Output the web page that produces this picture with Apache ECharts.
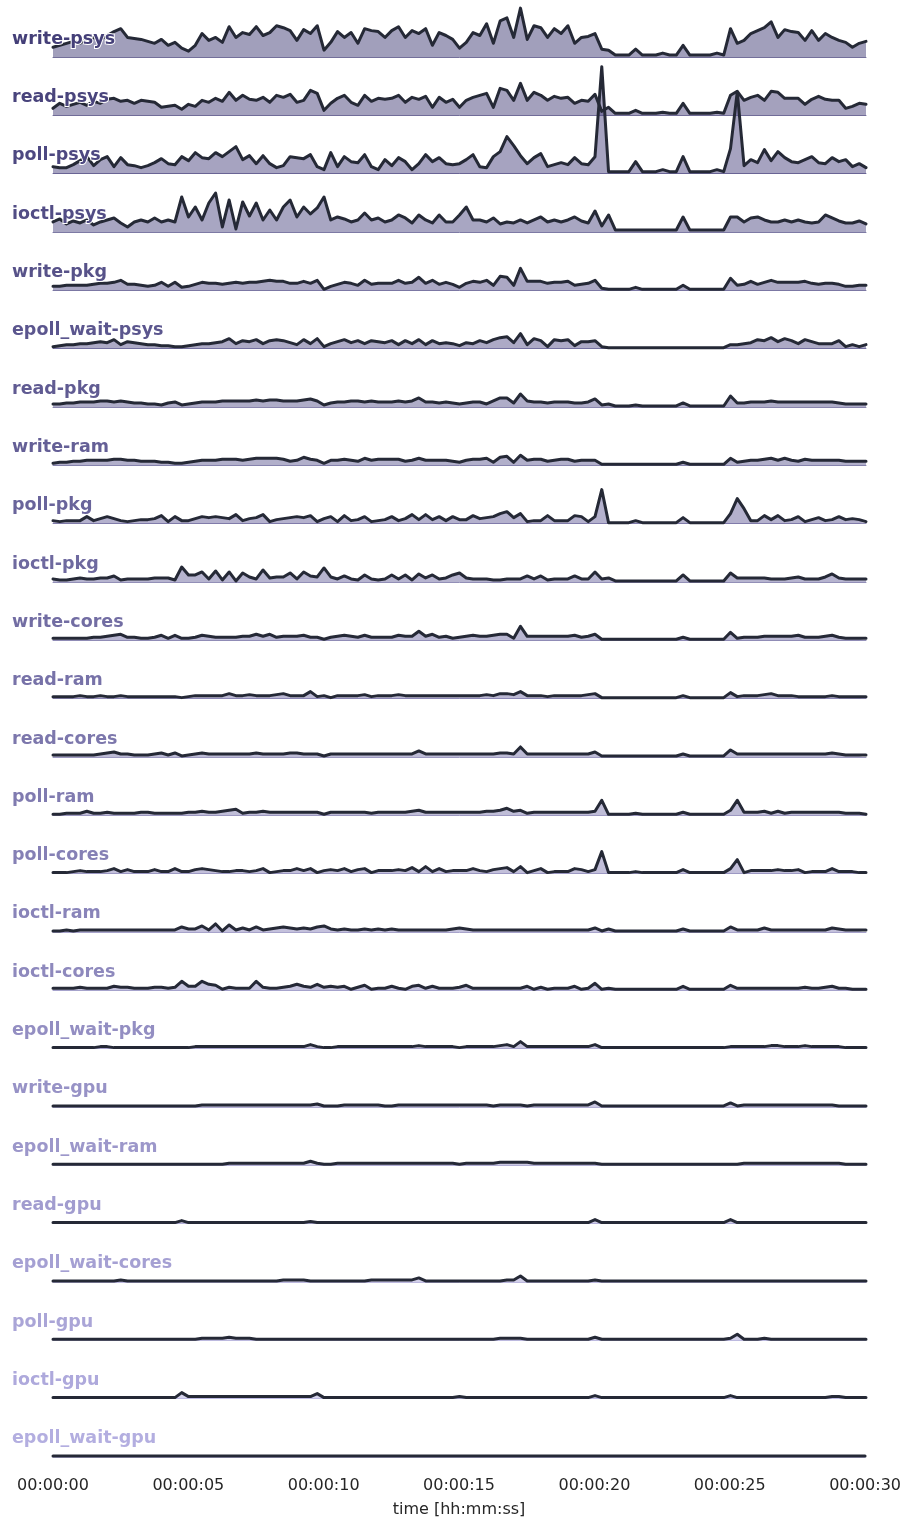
<!DOCTYPE html>
<html>
<head>
<meta charset="utf-8">
<title>syscall power by domain</title>
<script src="https://cdn.jsdelivr.net/npm/echarts@6/dist/echarts.min.js"></script>
<style>
  html, body { margin: 0; padding: 0; background: #ffffff; }
  #chart { width: 904px; height: 1521px; }
</style>
</head>
<body>
<div id="chart"></div>
<script>
// one sample every 0.25 s, 0..30 s
var times = [];
for (var i = 0; i <= 120; i++) times.push(i * 0.25);

var tickLabels = ["00:00:00", "00:00:05", "00:00:10", "00:00:15", "00:00:20", "00:00:25", "00:00:30"];

var writePsys = [10,12,14,16,14,18,20,18,22,26, 29,20,19,18,16,14,18,12,15,9, 6,12,24,17,20,15,31,20,25,23,
  31,22,25,32,30,27,17,28,24,32, 7,15,26,20,25,14,29,27,26,20, 27,31,20,27,24,29,12,25,22,18,
  9,15,25,22,34,14,37,40,20,50, 18,32,30,20,29,24,32,14,20,21, 24,8,7,2,2,2,8,2,2,2,
  4,2,2,12,2,2,2,2,4,2, 29,14,17,24,27,30,36,20,28,26, 25,17,27,17,24,20,17,15,10,14, 16];
var readPsys = [7,12,9,11,13,10,14,12,16,17, 14,15,12,15,14,13,8,9,10,6, 11,9,15,13,17,14,23,15,20,16,
  15,18,13,20,18,21,13,15,25,22, 5,12,17,20,13,10,20,14,17,16, 17,20,13,18,16,19,8,18,13,16,
  8,15,18,20,22,8,27,25,15,32, 15,23,20,15,19,17,18,12,15,14, 21,4,8,2,2,2,5,2,2,2,
  3,2,2,12,2,2,2,2,3,2, 20,24,15,18,20,15,24,23,17,17, 17,11,16,19,16,15,15,7,9,12, 11];
var pollPsys = [7,6,6,9,13,17,8,14,17,7, 16,9,8,6,8,11,15,10,9,17, 13,21,16,15,21,17,22,27,14,18,
  10,18,10,6,8,17,16,15,19,7, 4,21,7,17,12,11,19,7,4,14, 8,16,12,4,10,19,12,16,10,9,
  10,14,19,7,6,17,22,37,28,18, 10,16,20,7,9,11,9,16,10,9, 17,107,2,2,2,2,12,2,2,2,
  4,2,2,17,2,2,2,2,4,2, 25,82,8,14,11,24,13,22,16,12, 11,14,17,11,10,16,12,14,7,10, 6];
var ioctlPsys = [10,13,8,11,9,12,7,10,12,14, 9,5,10,12,10,14,10,12,10,35, 15,25,12,29,39,5,32,3,30,16,
  29,12,22,12,25,32,15,25,18,24, 35,12,15,13,10,12,19,12,14,10, 12,17,14,9,17,12,9,17,10,10,
  17,25,12,12,10,14,8,10,9,12, 9,12,15,10,12,10,12,15,11,9, 21,6,17,2,2,2,2,2,2,2,
  2,2,2,15,2,2,2,2,2,2, 15,15,10,14,15,12,10,10,12,10, 12,10,9,10,17,14,11,9,9,11, 8];
var writePkg = [4,4,5,5,5,5,6,7,7,8, 10,6,6,5,4,5,8,4,8,3, 4,6,8,7,7,6,7,8,7,8,
  8,9,10,9,9,7,7,9,7,10, 1,4,6,8,7,5,10,6,7,7, 7,10,7,8,13,7,10,6,8,6,
  3,7,9,8,10,5,14,13,5,22, 9,9,9,7,8,8,9,5,6,7, 10,2,1,1,1,1,3,1,1,1,
  1,1,1,5,1,1,1,1,1,1, 12,5,6,9,6,8,10,8,8,8, 8,9,7,6,7,7,6,4,4,5, 5];
var epollWaitPsys = [2,3,4,4,5,5,6,7,6,9, 4,7,6,5,4,4,3,3,2,2, 3,4,5,5,6,7,10,5,8,7,
  9,5,8,9,8,6,4,9,5,10, 2,5,7,9,6,8,5,8,7,6, 8,4,8,5,9,4,8,5,6,5,
  3,6,5,8,6,9,11,12,6,15, 4,10,8,2,9,8,9,3,7,7, 8,2,1,1,1,1,1,1,1,1,
  1,1,1,1,1,1,1,1,1,1, 4,4,5,6,9,8,11,7,10,8, 5,9,7,5,5,5,8,2,4,2, 4];
var readPkg = [3,3,4,4,5,5,5,6,6,5, 6,5,4,4,3,3,2,4,5,2, 3,4,5,5,5,6,6,6,6,6,
  7,6,7,7,6,6,6,7,8,6, 2,4,5,5,6,6,5,6,5,5, 5,6,5,6,9,5,5,4,5,4,
  3,4,5,5,3,6,9,9,4,13, 6,5,5,4,5,5,5,4,4,5, 8,2,3,1,1,1,2,1,1,1,
  1,1,1,4,1,1,1,1,1,1, 11,4,4,5,5,5,6,5,5,5, 5,5,5,5,5,5,4,3,3,3, 3];
var writeRam = [2,3,3,4,4,5,5,5,5,6, 6,5,5,4,4,4,3,3,2,2, 3,4,5,5,5,6,6,6,5,6,
  7,7,7,7,6,4,5,8,6,5, 2,5,5,6,5,4,7,5,6,6, 6,6,4,5,7,5,5,5,5,4,
  3,5,6,6,7,3,8,9,3,10, 5,6,6,4,5,6,6,4,5,5, 5,1,1,1,1,1,1,1,1,1,
  1,1,1,3,1,1,1,1,1,1, 7,3,4,5,5,6,7,5,7,5, 4,6,5,5,5,5,5,4,4,4, 4];
var pollPkg = [3,2,3,3,3,7,3,5,7,5, 3,2,3,4,4,5,8,2,7,3, 3,5,7,6,7,6,5,9,3,5,
  6,9,2,4,5,6,7,6,8,2, 5,7,2,8,3,4,7,2,3,4, 7,3,5,9,4,9,4,7,3,7,
  4,4,8,5,6,7,10,12,6,10, 2,3,3,8,3,3,3,8,7,2, 7,34,1,1,1,1,3,1,1,1,
  1,1,1,6,1,1,1,1,1,1, 10,25,15,3,3,8,4,8,3,4, 7,2,4,6,3,4,7,4,5,4, 2];
var ioctlPkg = [3,2,2,3,4,3,3,4,4,6, 2,3,3,3,3,4,4,4,2,15, 7,7,10,3,11,2,10,1,9,5,
  3,12,4,5,5,9,3,10,6,5, 14,5,3,6,3,2,7,3,2,3, 7,3,7,2,8,4,7,3,4,7,
  9,4,3,3,3,2,2,3,3,3, 6,3,6,2,3,3,3,6,3,3, 10,3,4,1,1,1,1,1,1,1,
  1,1,1,7,1,1,1,1,1,1, 9,4,4,4,4,4,3,3,3,4, 5,3,3,3,5,8,4,3,3,3, 3];
var writeCores = [2,2,2,2,2,2,3,3,4,5, 6,3,3,2,2,3,5,2,5,2, 2,3,5,4,3,3,3,3,4,4,
  6,4,6,3,4,4,4,5,3,3, 1,3,4,5,4,3,5,3,3,3, 3,5,4,4,9,4,6,3,4,2,
  3,4,5,4,4,5,6,6,2,14, 4,4,4,4,4,4,4,5,3,4, 6,1,1,1,1,1,1,1,1,1,
  1,1,1,3,1,1,1,1,1,1, 8,2,3,3,3,4,4,4,4,4, 5,3,3,3,4,5,3,2,2,2, 2];
var readRam = [2,2,2,2,3,2,2,3,2,2, 3,2,2,2,2,2,2,2,2,1, 2,3,3,3,3,3,5,3,3,4,
  3,3,3,4,5,3,3,3,7,2, 3,1,3,3,3,3,4,2,3,3, 3,4,3,3,3,3,3,3,3,3,
  3,3,3,3,4,3,5,5,4,7, 3,3,3,2,3,3,3,3,3,4, 5,1,1,1,1,1,1,1,1,1,
  1,1,1,3,1,1,1,1,1,1, 6,2,3,3,3,4,5,3,3,3, 2,2,2,2,2,3,2,2,2,2, 2];
var readCores = [2,2,2,2,2,2,2,3,4,5, 3,3,2,2,2,3,4,2,4,1, 2,3,4,3,3,3,3,3,3,3,
  4,3,3,3,3,4,4,3,3,3, 1,3,3,3,3,3,3,3,3,3, 3,3,3,3,6,3,3,3,3,3,
  3,3,3,3,3,3,4,4,3,10, 3,3,3,3,3,3,3,3,3,3, 5,1,1,1,1,1,1,1,1,1,
  1,1,1,3,1,1,1,1,1,1, 7,3,3,3,3,3,3,3,3,3, 3,3,3,3,3,4,3,2,2,2, 2];
var pollRam = [1,1,2,2,2,4,2,2,3,2, 2,2,2,3,3,2,2,2,2,2, 3,3,4,3,3,4,5,6,2,3,
  3,4,3,3,3,3,3,3,3,3, 1,3,3,3,3,3,3,2,3,3, 3,3,3,4,5,3,3,3,3,3,
  3,3,3,3,4,4,5,7,4,5, 2,3,3,3,3,3,3,3,3,3, 4,15,1,1,1,1,2,1,1,1,
  1,1,1,3,1,1,1,1,1,1, 5,15,3,3,3,4,2,4,2,3, 3,3,3,3,3,3,3,2,2,2, 1];
var pollCores = [1,1,1,2,3,2,2,2,3,5, 2,4,2,2,2,4,2,2,5,2, 2,4,5,4,3,2,2,3,3,2,
  3,5,1,2,3,3,5,3,5,1, 3,4,3,5,2,4,5,1,3,3, 3,4,3,6,2,7,2,5,2,3,
  3,3,5,3,2,4,5,6,2,7, 1,3,5,1,2,2,2,5,4,2, 4,22,1,1,1,1,2,1,1,1,
  1,1,1,4,1,1,1,1,1,1, 5,14,1,3,3,3,3,4,3,3, 4,1,2,2,2,5,2,2,2,1, 1];
var ioctlRam = [1,1,2,1,2,2,2,2,2,2, 2,2,2,2,2,2,2,2,2,5, 3,3,6,2,8,1,7,2,4,2,
  5,2,3,4,5,4,3,4,3,5, 6,3,2,3,2,2,3,2,3,2, 3,2,2,2,2,2,2,2,2,3,
  4,3,2,2,2,2,2,2,2,2, 2,2,2,2,2,2,2,2,2,2, 4,1,3,1,1,1,1,1,1,1,
  1,1,1,3,1,1,1,1,1,1, 5,2,2,2,2,4,2,2,2,2, 2,2,2,2,2,4,3,2,2,2, 2];
var ioctlCores = [2,2,2,2,3,2,2,2,2,4, 3,3,2,2,2,3,3,2,3,9, 4,4,9,6,5,1,3,2,2,2,
  9,3,2,2,3,4,6,4,3,6, 3,4,3,4,1,3,5,1,2,2, 4,2,1,4,5,2,4,2,2,2,
  3,5,2,2,2,2,2,2,2,2, 4,1,3,1,2,2,2,4,1,2, 7,1,2,1,1,1,1,1,1,1,
  1,1,1,4,1,1,1,1,1,1, 5,2,2,2,2,2,2,2,2,2, 2,3,2,2,3,4,2,2,1,1, 1];
var epollWaitPkg = [1,1,1,1,1,1,1,2,2,1, 1,1,1,1,1,1,1,1,1,1, 1,2,2,2,2,2,2,2,2,2,
  2,2,2,2,2,2,2,2,4,2, 1,1,2,2,2,2,2,2,2,2, 2,2,2,2,3,2,2,2,2,2,
  1,2,2,2,2,2,3,4,2,7, 2,2,2,2,2,2,2,2,2,2, 4,1,1,1,1,1,1,1,1,1,
  1,1,1,1,1,1,1,1,1,1, 2,2,2,2,2,2,3,3,2,2, 2,3,2,2,2,2,2,1,1,1, 1];
var writeGpu = [1,1,1,1,1,1,1,1,1,1, 1,1,1,1,1,1,1,1,1,1, 1,1,2,2,2,2,2,2,2,2,
  2,2,2,2,2,2,2,2,2,3, 1,1,1,2,2,2,2,2,2,1, 1,2,2,2,2,2,2,2,2,2,
  2,2,2,2,2,1,2,2,2,2, 1,2,2,2,2,2,2,2,2,2, 5,1,1,1,1,1,1,1,1,1,
  1,1,1,1,1,1,1,1,1,1, 4,1,2,2,2,2,2,2,2,2, 2,2,2,2,2,2,1,1,1,1, 1];
var epollWaitRam = [1,1,1,1,1,1,1,1,1,1, 1,1,1,1,1,1,1,1,1,1, 1,1,1,1,1,1,2,2,2,2,
  2,2,2,2,2,2,2,2,4,2, 1,1,2,2,2,2,2,2,2,2, 2,2,2,2,2,2,2,2,2,2,
  1,2,2,2,2,2,3,3,3,3, 3,2,2,2,2,2,2,2,2,2, 2,1,1,1,1,1,1,1,1,1,
  1,1,1,1,1,1,1,1,1,1, 1,1,2,2,2,2,2,2,2,2, 2,2,2,2,2,2,2,1,1,1, 1];
var readGpu = [1,1,1,1,1,1,1,1,1,1, 1,1,1,1,1,1,1,1,1,3, 1,1,1,1,1,1,1,1,1,1,
  1,1,1,1,1,1,1,1,2,1, 1,1,1,1,1,1,1,1,1,1, 1,1,1,1,1,1,1,1,1,1,
  1,1,1,1,1,1,1,1,1,1, 1,1,1,1,1,1,1,1,1,1, 4,1,1,1,1,1,1,1,1,1,
  1,1,1,1,1,1,1,1,1,1, 4,1,1,1,1,1,1,1,1,1, 1,1,1,1,1,1,1,1,1,1, 1];
var epollWaitCores = [1,1,1,1,1,1,1,1,1,1, 2,1,1,1,1,1,1,1,1,1, 1,1,1,1,1,1,1,1,1,1,
  1,1,1,1,2,2,2,2,1,1, 1,1,1,1,1,1,1,2,2,2, 2,2,2,2,4,1,1,1,1,1,
  1,1,1,1,1,1,1,2,2,6, 1,1,1,1,1,1,1,1,1,1, 2,1,1,1,1,1,1,1,1,1,
  1,1,1,1,1,1,1,1,1,1, 1,1,1,1,1,1,1,1,1,1, 1,1,1,1,1,1,1,1,1,1, 1];
var pollGpu = [1,1,1,1,1,1,1,1,1,1, 1,1,1,1,1,1,1,1,1,1, 1,1,2,2,2,2,3,2,2,2,
  1,1,1,1,1,1,1,1,1,1, 1,1,1,1,1,1,1,1,1,1, 1,1,1,1,1,1,1,1,1,1,
  1,1,1,1,1,1,2,2,2,2, 1,1,1,1,1,1,1,1,1,1, 3,1,1,1,1,1,1,1,1,1,
  1,1,1,1,1,1,1,1,1,1, 2,6,1,1,1,2,1,1,1,1, 1,1,1,1,1,1,1,1,1,1, 1];
var ioctlGpu = [1,1,1,1,1,1,1,1,1,1, 1,1,1,1,1,1,1,1,1,6, 2,2,2,2,2,2,2,2,2,2,
  2,2,2,2,2,2,2,2,2,5, 1,1,1,1,1,1,1,1,1,1, 1,1,1,1,1,1,1,1,1,1,
  2,1,1,1,1,1,1,1,1,1, 1,1,1,1,1,1,1,1,1,1, 3,1,1,1,1,1,1,1,1,1,
  1,1,1,1,1,1,1,1,1,1, 3,1,1,1,1,1,1,1,1,1, 1,1,1,1,1,2,2,1,1,1, 1];
var epollWaitGpu = [1,1,1,1,1,1,1,1,1,1, 1,1,1,1,1,1,1,1,1,1, 1,1,1,1,1,1,1,1,1,1,
  1,1,1,1,1,1,1,1,1,1, 1,1,1,1,1,1,1,1,1,1, 1,1,1,1,1,1,1,1,1,1,
  1,1,1,1,1,1,1,1,1,1, 1,1,1,1,1,1,1,1,1,1, 1,1,1,1,1,1,1,1,1,1,
  1,1,1,1,1,1,1,1,1,1, 1,1,1,1,1,1,1,1,1,1, 1,1,1,1,1,1,1,1,1,1, 1];

var rows = [
  ["write-psys", writePsys], ["read-psys", readPsys], ["poll-psys", pollPsys],
  ["ioctl-psys", ioctlPsys], ["write-pkg", writePkg], ["epoll_wait-psys", epollWaitPsys],
  ["read-pkg", readPkg], ["write-ram", writeRam], ["poll-pkg", pollPkg],
  ["ioctl-pkg", ioctlPkg], ["write-cores", writeCores], ["read-ram", readRam],
  ["read-cores", readCores], ["poll-ram", pollRam], ["poll-cores", pollCores],
  ["ioctl-ram", ioctlRam], ["ioctl-cores", ioctlCores], ["epoll_wait-pkg", epollWaitPkg],
  ["write-gpu", writeGpu], ["epoll_wait-ram", epollWaitRam], ["read-gpu", readGpu],
  ["epoll_wait-cores", epollWaitCores], ["poll-gpu", pollGpu], ["ioctl-gpu", ioctlGpu],
  ["epoll_wait-gpu", epollWaitGpu]
];

var firstBase = 57;
var rowGap = 58.33;
var plotLeft = 53;
var plotRight = 866;
var darkCol = [0x44, 0x3f, 0x78];
var lightCol = [0xb3, 0xae, 0xe0];

function rowColor(i, alpha) {
  var t = i / (rows.length - 1);
  var c = darkCol.map(function (d, j) { return Math.round(d + (lightCol[j] - d) * t); });
  return "rgba(" + c[0] + "," + c[1] + "," + c[2] + "," + alpha + ")";
}

var chart = echarts.init(document.getElementById("chart"));

var grid = [], xAxis = [], yAxis = [], series = [], graphic = [];
rows.forEach(function (row, i) {
  var base = firstBase + i * rowGap;
  var last = i === rows.length - 1;
  grid.push({ left: plotLeft, width: plotRight - plotLeft, top: base - rowGap, height: rowGap });
  xAxis.push({
    type: "value", gridIndex: i, min: 0, max: 30, interval: 5,
    axisLine: { show: true, lineStyle: { color: rowColor(i, 0.75), width: 1 } },
    axisTick: { show: false },
    splitLine: { show: false },
    axisLabel: {
      show: last, margin: 21, fontSize: 16, color: "#262626", fontFamily: "DejaVu Sans",
      formatter: function (v) { return tickLabels[Math.round(v / 5)]; }
    },
    name: last ? "time [hh:mm:ss]" : "",
    nameLocation: "middle", nameGap: 45,
    nameTextStyle: { fontSize: 16, color: "#262626", fontFamily: "DejaVu Sans" }
  });
  yAxis.push({ type: "value", gridIndex: i, min: 0, max: rowGap, show: false });
  series.push({
    type: "line",
    name: row[0],
    xAxisIndex: i,
    yAxisIndex: i,
    data: times.map(function (t, k) { return [t, row[1][k]]; }),
    showSymbol: false,
    clip: false,
    silent: true,
    lineStyle: { color: "#252936", width: 3, join: "round", cap: "round" },
    areaStyle: { color: rowColor(i, 0.5), opacity: 1 }
  });
  graphic.push({
    type: "text", x: 12, y: base - 18, z: 100,
    style: {
      text: row[0], fill: rowColor(i, 1),
      fontSize: 17.5, fontWeight: "bold", fontFamily: "DejaVu Sans",
      verticalAlign: "middle", stroke: "#ffffff", lineWidth: 2
    }
  });
});

chart.setOption({
  animation: false,
  backgroundColor: "#ffffff",
  grid: grid,
  xAxis: xAxis,
  yAxis: yAxis,
  series: series,
  graphic: graphic
});
</script>
</body>
</html>
